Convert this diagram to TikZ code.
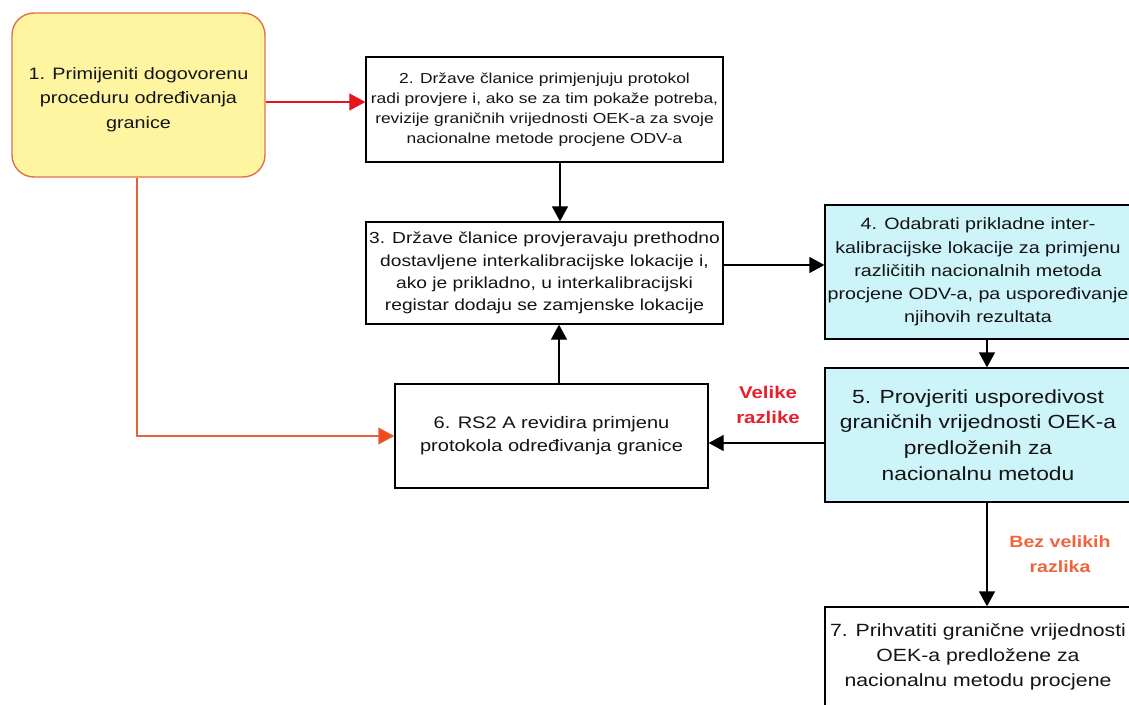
\documentclass[tikz,border=0pt]{standalone}
\usepackage{fontspec}
\setmainfont{Liberation Sans}[FakeStretch=1.2]
\usetikzlibrary{arrows.meta}

\definecolor{startfill}{RGB}{255,245,160}
\definecolor{startline}{RGB}{224,112,74}
\definecolor{stepcyan}{RGB}{204,244,249}
\definecolor{redline}{RGB}{232,20,28}
\definecolor{orangeline}{RGB}{232,96,60}
\definecolor{orangehead}{RGB}{240,74,26}
\definecolor{labelred}{RGB}{232,32,42}
\definecolor{labelorange}{RGB}{240,100,60}
\definecolor{inktext}{RGB}{20,20,20}

\newcommand{\fsz}[2]{\fontsize{#1}{#2}\selectfont}

\tikzset{
  stepbox/.style={draw=black, line width=1.3pt, fill=white, inner sep=0pt, align=center, text=inktext},
  cyanbox/.style={stepbox, fill=stepcyan},
  startbox/.style={draw=startline, line width=1.4pt, fill=startfill, rounded corners=22pt, inner sep=0pt},
  boxtext/.style={align=center, inner sep=0pt, text=inktext},
  flow/.style={draw=black, line width=1.3pt, -{Triangle[length=15pt,width=16pt]}},
  redflow/.style={draw=redline, line width=1.2pt, -{Triangle[length=16pt,width=17pt,fill=redline]}},
  orangeflow/.style={draw=orangeline, line width=1.2pt, -{Triangle[length=16pt,width=17pt,fill=orangehead]}},
  condlabel/.style={align=center, inner sep=0pt}
}

\begin{document}
\begin{tikzpicture}[x=1pt, y=-1pt]
\useasboundingbox (0,0) rectangle (1129,704);
\fill[white] (0,0) rectangle (1129,704);

% process steps
\node[startbox, minimum width=253pt, minimum height=164pt] (s1) at (138.5,95) {};
\node[boxtext, font=\fsz{16.5}{24.5}] (s1text) at (138.5,99.5)
  {1. Primijeniti dogovorenu\\proceduru određivanja\\granice};

\node[stepbox, minimum width=357pt, minimum height=105pt, font=\fsz{14.5}{20}] (s2) at (544.5,109.5)
  {2. Države članice primjenjuju protokol\\radi provjere i, ako se za tim pokaže potreba,\\revizije graničnih vrijednosti OEK-a za svoje\\nacionalne metode procjene ODV-a};

\node[stepbox, minimum width=357pt, minimum height=102pt, font=\fsz{16}{22.3}] (s3) at (544.5,273)
  {3. Države članice provjeravaju prethodno\\dostavljene interkalibracijske lokacije i,\\ako je prikladno, u interkalibracijski\\registar dodaju se zamjenske lokacije};

\node[cyanbox, minimum width=306pt, minimum height=134pt, font=\fsz{16.4}{23.2}] (s4) at (978,272)
  {4. Odabrati prikladne inter-\\kalibracijske lokacije za primjenu\\različitih nacionalnih metoda\\procjene ODV-a, pa uspoređivanje\\njihovih rezultata};

\node[cyanbox, minimum width=306pt, minimum height=134pt, font=\fsz{19}{25.7}] (s5) at (978,435)
  {5. Provjeriti usporedivost\\graničnih vrijednosti OEK-a\\predloženih za\\nacionalnu metodu};

\node[stepbox, minimum width=313pt, minimum height=104pt, font=\fsz{16.7}{23}] (s6) at (551.5,436)
  {6. RS2 A revidira primjenu\\protokola određivanja granice};

\node[stepbox, minimum width=306pt, minimum height=100pt, font=\fsz{17.7}{25}] (s7) at (978,657)
  {7. Prihvatiti granične vrijednosti\\OEK-a predložene za\\nacionalnu metodu procjene};

% branch labels
\node[condlabel, text=labelred, font=\bfseries\fsz{17}{25}] (big) at (768,404.5)
  {Velike\\razlike};
\node[condlabel, text=labelorange, font=\bfseries\fsz{16.3}{25}] (small) at (1060,554.5)
  {Bez velikih\\razlika};

% connectors
\draw[redflow] ([yshift=-7pt]s1.east) -- ([yshift=-7pt]s1.east -| s2.west);
\draw[orangeflow] ([xshift=-1.5pt]s1.south) |- (s6.west);
\draw[flow] ([xshift=15.5pt]s2.south) -- ([xshift=15.5pt]s2.south |- s3.north);
\draw[flow] ([yshift=8pt]s3.east) -- ([yshift=8pt]s3.east -| s4.west);
\draw[flow] ([xshift=9pt]s4.south) -- ([xshift=9pt]s4.south |- s5.north);
\draw[flow] ([yshift=-8pt]s5.west) -- ([yshift=-8pt]s5.west -| s6.east);
\draw[flow] ([xshift=7.5pt]s6.north) -- ([xshift=7.5pt]s6.north |- s3.south);
\draw[flow] ([xshift=9pt]s5.south) -- ([xshift=9pt]s5.south |- s7.north);
\end{tikzpicture}
\end{document}
